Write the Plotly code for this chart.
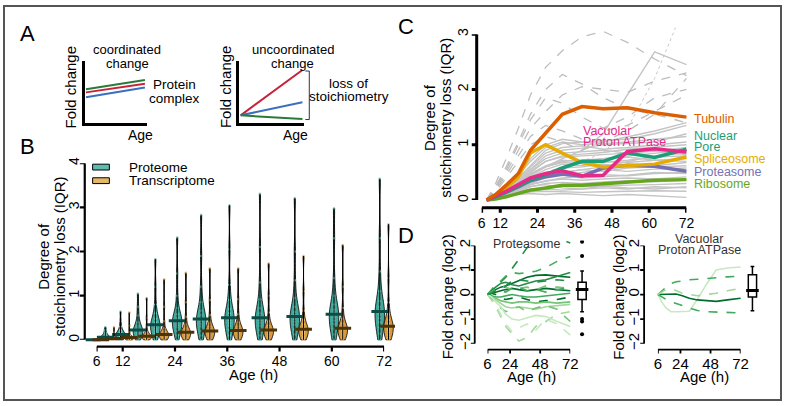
import numpy as np
import plotly.graph_objects as go

W, H = 789, 406
FONT = "Arial, Liberation Sans, sans-serif"

# ---------------- data ----------------
ages = [6, 9, 12.5, 16.5, 20.5, 25.5, 31, 37.5, 44.5, 52.5, 61.5, 72]

# panel A schematic (two points per line: start / end)
schem_x = [0.02, 0.97]
coord_green = [0.55, 0.70]
coord_red = [0.50, 0.64]
coord_blue = [0.42, 0.58]
uncoord_red = [0.13, 0.86]
uncoord_blue = [0.13, 0.34]
uncoord_green = [0.13, 0.07]

# panel B: stoichiometry loss per complex, one list per age
proteome = [
    [0, 0, 0],
    [0.0, 0.01, 0.02, 0.03, 0.04, 0.05, 0.06, 0.06, 0.07, 0.08, 0.1, 0.13, 0.17, 0.22, 0.29],
    [0.0, 0.02, 0.04, 0.06, 0.08, 0.1, 0.11, 0.12, 0.13, 0.15, 0.18, 0.22, 0.3, 0.42, 0.64],
    [0.0, 0.04, 0.08, 0.12, 0.15, 0.18, 0.2, 0.22, 0.24, 0.27, 0.32, 0.4, 0.55, 0.75, 1.05],
    [0.0, 0.08, 0.15, 0.2, 0.25, 0.3, 0.33, 0.34, 0.36, 0.4, 0.48, 0.6, 0.8, 1.2, 1.83],
    [0.0, 0.1, 0.2, 0.28, 0.33, 0.38, 0.41, 0.43, 0.46, 0.5, 0.58, 0.72, 1.0, 1.5, 2.32],
    [0.0, 0.1, 0.2, 0.3, 0.36, 0.42, 0.45, 0.47, 0.5, 0.56, 0.66, 0.85, 1.2, 1.9, 2.83],
    [0.0, 0.1, 0.22, 0.32, 0.38, 0.44, 0.48, 0.5, 0.53, 0.6, 0.7, 0.9, 1.25, 2.05, 3.05],
    [0.0, 0.1, 0.22, 0.32, 0.38, 0.44, 0.48, 0.5, 0.54, 0.6, 0.72, 0.92, 1.3, 2.1, 3.31],
    [0.0, 0.12, 0.24, 0.34, 0.41, 0.47, 0.51, 0.53, 0.57, 0.63, 0.75, 0.95, 1.35, 2.0, 3.21],
    [0.0, 0.12, 0.25, 0.36, 0.44, 0.51, 0.55, 0.58, 0.62, 0.68, 0.8, 1.0, 1.4, 2.3, 2.98],
    [0.0, 0.14, 0.28, 0.4, 0.49, 0.56, 0.6, 0.64, 0.68, 0.75, 0.88, 1.1, 1.55, 2.3, 3.65],
]
transcriptome = [
    [0, 0, 0],
    [0.0, 0.005, 0.01, 0.015, 0.02, 0.025, 0.03, 0.03, 0.035, 0.04, 0.05, 0.07, 0.1, 0.16, 0.29],
    [0.0, 0.01, 0.02, 0.03, 0.035, 0.04, 0.045, 0.05, 0.055, 0.065, 0.08, 0.11, 0.18, 0.32, 0.62],
    [0.0, 0.01, 0.03, 0.045, 0.055, 0.065, 0.075, 0.08, 0.09, 0.1, 0.13, 0.18, 0.3, 0.5, 0.95],
    [0.0, 0.02, 0.04, 0.06, 0.08, 0.1, 0.11, 0.12, 0.13, 0.15, 0.19, 0.26, 0.42, 0.75, 1.37],
    [0.0, 0.03, 0.06, 0.09, 0.12, 0.14, 0.16, 0.17, 0.18, 0.21, 0.26, 0.34, 0.52, 0.85, 1.52],
    [0.0, 0.03, 0.07, 0.1, 0.14, 0.17, 0.19, 0.2, 0.21, 0.24, 0.3, 0.38, 0.56, 0.9, 1.62],
    [0.0, 0.03, 0.07, 0.11, 0.15, 0.18, 0.2, 0.21, 0.22, 0.25, 0.31, 0.4, 0.58, 0.92, 1.62],
    [0.0, 0.04, 0.08, 0.12, 0.16, 0.19, 0.21, 0.22, 0.23, 0.26, 0.32, 0.42, 0.62, 1.0, 1.73],
    [0.0, 0.04, 0.08, 0.13, 0.17, 0.2, 0.23, 0.24, 0.25, 0.28, 0.35, 0.45, 0.66, 1.1, 1.9],
    [0.0, 0.04, 0.09, 0.14, 0.19, 0.22, 0.25, 0.26, 0.27, 0.3, 0.37, 0.48, 0.72, 1.2, 2.15],
    [0.0, 0.05, 0.11, 0.17, 0.22, 0.27, 0.3, 0.31, 0.33, 0.37, 0.45, 0.58, 0.85, 1.4, 2.62],
]

# panel C: background complexes (grey)
grey_solid = [
    [0, 0.05, 0.1, 0.15, 0.2, 0.22, 0.25, 0.24, 0.26, 0.27, 0.28, 0.3],
    [0, 0.08, 0.18, 0.3, 0.45, 0.6, 0.7, 0.72, 0.75, 0.8, 0.85, 0.9],
    [0, 0.1, 0.25, 0.45, 0.7, 0.95, 1.05, 1.0, 1.02, 1.05, 1.1, 1.15],
    [0, 0.06, 0.12, 0.22, 0.35, 0.45, 0.5, 0.55, 0.52, 0.58, 0.6, 0.62],
    [0, 0.04, 0.08, 0.12, 0.15, 0.16, 0.15, 0.14, 0.15, 0.16, 0.17, 0.16],
    [0, 0.07, 0.15, 0.28, 0.42, 0.55, 0.65, 0.62, 0.7, 0.68, 0.72, 0.75],
    [0, 0.09, 0.2, 0.38, 0.6, 0.85, 0.95, 0.98, 0.92, 0.95, 1.0, 1.05],
    [0, 0.03, 0.06, 0.1, 0.12, 0.1, 0.12, 0.1, 0.08, 0.1, 0.08, 0.05],
    [0, 0.06, 0.14, 0.25, 0.38, 0.48, 0.45, 0.4, 0.42, 0.45, 0.5, 0.48],
    [0, 0.08, 0.2, 0.35, 0.55, 0.75, 0.85, 0.88, 0.9, 0.85, 0.88, 0.95],
    [0, 0.05, 0.1, 0.18, 0.28, 0.35, 0.38, 0.36, 0.38, 0.4, 0.38, 0.42],
    [0, 0.1, 0.22, 0.4, 0.62, 0.9, 1.02, 1.05, 1.08, 1.1, 1.2, 1.35],
    [0, 0.07, 0.16, 0.3, 0.5, 0.7, 0.78, 0.8, 0.82, 0.85, 0.9, 0.82],
    [0, 0.04, 0.09, 0.16, 0.24, 0.3, 0.32, 0.3, 0.33, 0.35, 0.33, 0.36],
    [0, 0.06, 0.13, 0.22, 0.32, 0.42, 0.58, 0.6, 0.65, 0.6, 0.62, 0.68],
    [0, 0.09, 0.2, 0.36, 0.55, 0.8, 0.9, 0.94, 1.0, 1.02, 1.05, 1.2],
    [0, 0.05, 0.12, 0.2, 0.3, 0.4, 0.45, 0.5, 0.55, 0.52, 0.56, 0.58],
    [0, 0.08, 0.18, 0.32, 0.48, 0.62, 0.72, 0.7, 0.75, 0.78, 0.72, 0.7],
    [0, 0.1, 0.25, 0.45, 0.75, 1.0, 1.1, 1.05, 1.05, 1.15, 1.25, 1.4],
    [0, 0.08, 0.18, 0.3, 0.45, 0.6, 0.75, 0.9, 1.2, 1.9, 2.68, 2.45],
    [0, 0.07, 0.15, 0.25, 0.35, 0.45, 0.5, 0.55, 0.6, 0.7, 0.8, 0.85],
    [0, 0.05, 0.1, 0.2, 0.25, 0.28, 0.22, 0.2, 0.25, 0.22, 0.2, 0.24],
    [0, 0.06, 0.12, 0.2, 0.28, 0.34, 0.4, 0.42, 0.46, 0.44, 0.48, 0.5],
    [0, 0.09, 0.2, 0.34, 0.52, 0.7, 0.8, 0.83, 0.86, 0.92, 0.96, 1.0],
    [0, 0.03, 0.07, 0.12, 0.16, 0.2, 0.18, 0.2, 0.22, 0.2, 0.24, 0.22],
    [0, 0.07, 0.17, 0.3, 0.46, 0.6, 0.68, 0.66, 0.68, 0.72, 0.78, 0.8],
]
grey_dashed = [
    [0, 0.3, 0.75, 1.3, 1.9, 2.4, 2.7, 2.95, 3.05, 2.85, 2.55, 2.25],
    [0, 0.25, 0.6, 1.05, 1.55, 2.0, 2.27, 2.1, 1.85, 1.65, 1.55, 1.4],
    [0, 0.2, 0.5, 0.9, 1.3, 1.6, 1.9, 2.05, 2.0, 1.95, 2.15, 2.3],
    [0, 0.22, 0.55, 1.0, 1.45, 1.85, 1.75, 1.5, 1.3, 1.5, 1.85, 2.0],
    [0, 0.18, 0.45, 0.8, 1.15, 1.35, 1.25, 1.1, 1.25, 1.35, 1.6, 1.9],
    [0, 0.15, 0.4, 0.7, 1.0, 1.15, 1.05, 0.9, 1.05, 1.25, 1.55, 2.2],
]
grey_dotted = [0, 0.06, 0.14, 0.24, 0.36, 0.5, 0.6, 0.7, 0.85, 1.3, 2.2, 3.6]

complex_names = ["Ribosome", "Proteasome", "Spliceosome", "Nuclear Pore", "Vacuolar Proton ATPase", "Tubulin"]
complex_colors = ["#66a61e", "#7570b3", "#e6ab02", "#1b9e77", "#e7298a", "#d95f02"]
complex_loss = [
    [0, 0.02, 0.06, 0.12, 0.18, 0.22, 0.27, 0.27, 0.3, 0.33, 0.36, 0.37],
    [0, 0.06, 0.14, 0.24, 0.35, 0.42, 0.47, 0.43, 0.58, 0.63, 0.61, 0.52],
    [0, 0.08, 0.22, 0.42, 0.85, 1.0, 0.85, 0.68, 0.6, 0.62, 0.65, 0.78],
    [0, 0.06, 0.15, 0.26, 0.36, 0.46, 0.58, 0.7, 0.7, 0.85, 0.77, 0.92],
    [0, 0.07, 0.16, 0.28, 0.4, 0.48, 0.53, 0.44, 0.45, 0.88, 0.93, 0.87],
    [0, 0.1, 0.27, 0.48, 0.9, 1.2, 1.55, 1.69, 1.65, 1.67, 1.58, 1.5],
]

# panel D: subunit fold changes (log2)
d_colors = ["#238b45", "#41ab5d", "#006d2c", "#238b45", "#006d2c", "#74c476", "#41ab5d", "#006d2c",
            "#74c476", "#a1d99b", "#a1d99b", "#c7e9c0", "#74c476", "#c7e9c0", "#41ab5d", "#238b45"]
d_dashed = [True, True, False, False, False, True, False, True, False, False, True, True, True, False, True, True]
proteasome_fc = [
    [0, 0.15, 0.35, 0.5, 0.7, 1.05, 1.45, 1.9, 2.3, 2.5, 2.3, 2.1],
    [0, 0.2, 0.4, 0.55, 0.75, 0.9, 0.85, 0.9, 0.95, 1.1, 1.35, 1.55],
    [0, 0.1, 0.2, 0.3, 0.35, 0.45, 0.55, 0.7, 0.78, 0.8, 0.75, 0.7],
    [0, 0.15, 0.3, 0.45, 0.5, 0.4, 0.35, 0.45, 0.55, 0.6, 0.75, 0.9],
    [0, 0.05, 0.1, 0.15, 0.2, 0.25, 0.2, 0.15, 0.2, 0.25, 0.2, 0.15],
    [0, 0.1, 0.25, 0.35, 0.3, 0.2, 0.25, 0.3, 0.2, 0.35, 0.3, 0.25],
    [0, -0.05, -0.1, -0.1, -0.05, 0.0, -0.05, -0.1, -0.1, -0.05, 0.0, 0.05],
    [0, 0.05, 0.0, -0.15, -0.2, -0.15, -0.1, -0.2, -0.3, -0.25, -0.2, -0.1],
    [0, -0.1, -0.15, -0.25, -0.3, -0.35, -0.3, -0.3, -0.35, -0.3, -0.35, -0.3],
    [0, -0.1, -0.2, -0.35, -0.5, -0.55, -0.5, -0.55, -0.6, -0.5, -0.45, -0.4],
    [0, -0.2, -0.5, -0.9, -1.3, -1.6, -1.9, -1.75, -1.3, -1.1, -0.8, -0.7],
    [0, -0.1, -0.4, -0.8, -1.2, -1.5, -1.35, -1.2, -1.45, -1.0, -1.2, -1.65],
    [0, -0.15, -0.3, -0.55, -0.7, -0.6, -0.5, -0.7, -0.55, -0.45, -0.6, -1.1],
    [0, -0.1, -0.3, -0.5, -0.8, -1.0, -1.05, -0.95, -0.85, -0.9, -1.1, -1.3],
    [0, 0.1, 0.2, 0.15, 0.1, 0.25, 0.3, 0.15, 0.2, 0.1, 0.2, 0.3],
    [0, 0.05, 0.15, 0.2, 0.35, 0.55, 0.6, 0.55, 0.5, 0.55, 0.6, 0.55],
]
proteasome_box = dict(q1=-0.2, median=0.2, q3=0.5, lo=-0.7, hi=0.96)
proteasome_outliers = [2.15, 1.57, -1.0, -1.1, -1.62]

v_colors = ["#c7e9c0", "#006d2c", "#41ab5d", "#41ab5d", "#a1d99b"]
v_dashed = [False, False, True, True, True]
vatpase_fc = [
    [0, -0.3, -0.55, -0.7, -0.7, -0.7, -0.68, -0.2, 0.4, 1.0, 1.08, 1.12],
    [0, 0.0, 0.02, 0.03, 0.02, -0.05, -0.15, -0.22, -0.25, -0.28, -0.22, -0.15],
    [0, 0.15, 0.3, 0.45, 0.52, 0.55, 0.6, 0.62, 0.65, 0.7, 0.72, 0.75],
    [0, -0.1, -0.2, -0.3, -0.38, -0.45, -0.55, -0.65, -0.7, -0.72, -0.73, -0.75],
    [0, 0.1, 0.2, 0.25, 0.15, 0.05, 0.0, -0.05, 0.0, 0.05, 0.15, 0.25],
]
vatpase_box = dict(q1=-0.1, median=0.16, q3=0.81, lo=-0.66, hi=1.14)

# tick values of the display axes
B_xticks, B_yticks = [6, 12, 24, 36, 48, 60, 72], [0, 1, 2, 3, 4]
C_xticks, C_yticks = [6, 12, 24, 36, 48, 60, 72], [0, 1, 2, 3]
D_xticks, D_yticks = [6, 24, 48, 72], [-2, -1, 0, 1, 2]

TEAL, TEAL_LIGHT, TEAL_DARK = "#3fa99b", "#5cbcae", "#0b4d46"
ORANGE, ORANGE_LIGHT, ORANGE_DARK = "#d99a3c", "#e3b866", "#4d3308"


# ---------------- helpers (pixel -> paper) ----------------
def xdom(r, a, pa, b, pb):
    k = (pb - pa) / (b - a)
    return [(pa + (r[0] - a) * k) / W, (pa + (r[1] - a) * k) / W]


def ydom(r, a, pa, b, pb):
    k = (pb - pa) / (b - a)
    return [1 - (pa + (r[0] - a) * k) / H, 1 - (pa + (r[1] - a) * k) / H]


def hidden(rng, dom, anchor):
    return dict(range=rng, domain=dom, anchor=anchor, visible=False, fixedrange=True)


# display axes only carry the tick labels; line + ticks are drawn as shapes (R-style, detached)
def show_x(p0, p1, rng, ticks, anchor, size=14, standoff=-3):
    return dict(domain=[p0 / W, p1 / W], range=rng, anchor=anchor, showline=False, ticks="outside",
                ticklen=5, tickcolor="rgba(0,0,0,0)", tickvals=ticks, showgrid=False, zeroline=False,
                ticklabelstandoff=standoff, tickfont=dict(size=size, color="black", family=FONT),
                fixedrange=True)


def show_y(top, bottom, rng, ticks, anchor, size=14, standoff=-3):
    return dict(domain=[1 - bottom / H, 1 - top / H], range=rng, anchor=anchor, showline=False,
                ticks="outside", ticklen=5, tickcolor="rgba(0,0,0,0)", tickvals=ticks, tickangle=-90,
                showgrid=False, zeroline=False, ticklabelstandoff=standoff,
                tickfont=dict(size=size, color="black", family=FONT), fixedrange=True)


blank = dict(range=[0, 1], showline=False, showgrid=False, zeroline=False, ticks="",
             showticklabels=False, fixedrange=True)


def partner_y(ypos, anchor):
    return dict(blank, domain=[1 - ypos / H, 1 - (ypos - 4) / H], anchor=anchor)


def partner_x(xpos, anchor):
    return dict(blank, domain=[xpos / W, (xpos + 4) / W], anchor=anchor)


def x_axis_shapes(xref, ticks, ypos, lw, tl):
    y0 = 1 - ypos / H
    out = [dict(type="line", xref=xref, yref="paper", x0=ticks[0], x1=ticks[-1], y0=y0, y1=y0,
                line=dict(color="black", width=lw))]
    for t in ticks:
        out.append(dict(type="line", xref=xref, yref="paper", x0=t, x1=t, y0=y0, y1=1 - (ypos + tl) / H,
                        line=dict(color="black", width=lw)))
    return out


def y_axis_shapes(yref, ticks, xpos, lw, tl):
    x0 = xpos / W
    out = [dict(type="line", xref="paper", yref=yref, x0=x0, x1=x0, y0=ticks[0], y1=ticks[-1],
                line=dict(color="black", width=lw))]
    for v in ticks:
        out.append(dict(type="line", xref="paper", yref=yref, x0=x0, x1=(xpos - tl) / W, y0=v, y1=v,
                        line=dict(color="black", width=lw)))
    return out


def txt(s, x, y, size=13, color="black", angle=0, xanchor="center"):
    return dict(text=s, x=x / W, y=1 - y / H, xref="paper", yref="paper", showarrow=False,
                font=dict(size=size, color=color, family=FONT), textangle=angle,
                xanchor=xanchor, yanchor="middle")


fig = go.Figure()

# ---------------- panel A ----------------
for ys, col in [(coord_green, "#2a7a3a"), (coord_red, "#c8213a"), (coord_blue, "#3a6fbf")]:
    fig.add_trace(go.Scatter(x=schem_x, y=ys, mode="lines", line=dict(color=col, width=2),
                             xaxis="x", yaxis="y", hoverinfo="skip"))
for ys, col in [(uncoord_red, "#c8213a"), (uncoord_blue, "#3a6fbf"), (uncoord_green, "#2a7a3a")]:
    fig.add_trace(go.Scatter(x=schem_x, y=ys, mode="lines", line=dict(color=col, width=2),
                             xaxis="x2", yaxis="y2", hoverinfo="skip"))

# ---------------- panel B ----------------
off = 1.0
for t, vals in zip(ages, proteome):
    if max(vals) > 0:
        fig.add_trace(go.Violin(x=[t - off] * len(vals), y=vals, xaxis="x3", yaxis="y3", width=2.2,
                                spanmode="hard", fillcolor=TEAL, line=dict(color="black", width=0.8),
                                points="all", pointpos=0, jitter=0,
                                marker=dict(size=2.5, color="#8fd8cc"), hoverinfo="skip"))
for t, vals in zip(ages, transcriptome):
    if max(vals) > 0:
        fig.add_trace(go.Violin(x=[t + off] * len(vals), y=vals, xaxis="x3", yaxis="y3", width=2.2,
                                spanmode="hard", fillcolor=ORANGE, line=dict(color="black", width=0.8),
                                points="all", pointpos=0, jitter=0,
                                marker=dict(size=2.5, color="#f0c480"), hoverinfo="skip"))

for series, sign, dark in [(proteome, -1, TEAL_DARK), (transcriptome, 1, ORANGE_DARK)]:
    lx, ly = [], []
    for t, vals in zip(ages, series):
        lx += [t + sign * off, t + sign * off, None]
        ly += [min(vals), max(vals), None]
    fig.add_trace(go.Scatter(x=lx, y=ly, mode="lines", line=dict(color="black", width=1),
                             xaxis="x3", yaxis="y3", hoverinfo="skip"))
    fig.add_trace(go.Scatter(x=[t + sign * off for t in ages], y=[float(np.median(v)) for v in series],
                             mode="markers", xaxis="x3", yaxis="y3", hoverinfo="skip",
                             marker=dict(symbol="line-ew", size=12, line=dict(color=dark, width=3))))

# ---------------- panel C ----------------
for ys in grey_solid:
    fig.add_trace(go.Scatter(x=ages, y=ys, mode="lines", line=dict(color="#c4c4c4", width=1.4),
                             xaxis="x5", yaxis="y5", hoverinfo="skip"))
for ys in grey_dashed:
    fig.add_trace(go.Scatter(x=ages, y=ys, mode="lines", line=dict(color="#bdbdbd", width=1.3, dash="dash"),
                             xaxis="x5", yaxis="y5", hoverinfo="skip"))
fig.add_trace(go.Scatter(x=ages, y=grey_dotted, mode="lines", line=dict(color="#c8c8c8", width=1, dash="dot"),
                         xaxis="x5", yaxis="y5", hoverinfo="skip"))
for name, col, ys in zip(complex_names, complex_colors, complex_loss):
    fig.add_trace(go.Scatter(x=ages, y=ys, mode="lines", name=name, line=dict(color=col, width=3.5),
                             xaxis="x5", yaxis="y5", hoverinfo="skip"))

# ---------------- panel D ----------------
for ys, col, dsh in zip(proteasome_fc, d_colors, d_dashed):
    fig.add_trace(go.Scatter(x=ages, y=ys, mode="lines", line=dict(color=col, width=1.6, dash="dash" if dsh else "solid"),
                             xaxis="x7", yaxis="y7", hoverinfo="skip"))
for ys, col, dsh in zip(vatpase_fc, v_colors, v_dashed):
    fig.add_trace(go.Scatter(x=ages, y=ys, mode="lines", line=dict(color=col, width=1.6, dash="dash" if dsh else "solid"),
                             xaxis="x10", yaxis="y10", hoverinfo="skip"))

for bx, yax, st in [("x8", "y7", proteasome_box), ("x11", "y10", vatpase_box)]:
    fig.add_trace(go.Box(x=[0], q1=[st["q1"]], median=[st["median"]], q3=[st["q3"]],
                         lowerfence=[st["lo"]], upperfence=[st["hi"]], xaxis=bx, yaxis=yax,
                         fillcolor="white", line=dict(color="black", width=1.5), width=0.6,
                         whiskerwidth=0.45, boxpoints=False, hoverinfo="skip"))
    fig.add_trace(go.Scatter(x=[0], y=[st["median"]], mode="markers", xaxis=bx, yaxis=yax, hoverinfo="skip",
                             marker=dict(symbol="line-ew", size=9, line=dict(color="black", width=3))))
fig.add_trace(go.Scatter(x=[0] * len(proteasome_outliers), y=proteasome_outliers, mode="markers",
                         marker=dict(color="black", size=4), xaxis="x8", yaxis="y7", hoverinfo="skip"))

# invisible anchor points so the display axes (and their blank partners) form real subplots
for xa, ya, xv, yv in [("x4", "y20", 6, 0.5), ("x20", "y4", 0.5, 0), ("x6", "y21", 6, 0.5), ("x21", "y6", 0.5, 0),
                       ("x9", "y22", 6, 0.5), ("x22", "y9", 0.5, 0), ("x12", "y23", 6, 0.5), ("x23", "y12", 0.5, 0)]:
    fig.add_trace(go.Scatter(x=[xv], y=[yv], xaxis=xa, yaxis=ya, mode="markers",
                             marker=dict(size=1, opacity=0), hoverinfo="skip"))

# ---------------- layout / axes ----------------
axis_a = dict(range=[0, 1], showline=True, linecolor="black", linewidth=3, ticks="", showticklabels=False,
              showgrid=False, zeroline=False, fixedrange=True)

B_rx, B_ry = [3.5, 74.5], [-0.08, 4.0]
C_rx, C_ry = [5.5, 72.5], [-0.05, 3.12]
D_rx, D_ry = [5.0, 73.0], [-2.1, 2.2]

fig.update_layout(
    width=W, height=H, margin=dict(l=0, r=0, t=0, b=0), showlegend=False,
    paper_bgcolor="white", plot_bgcolor="rgba(0,0,0,0)", font=dict(family=FONT, color="black"),
    # A
    xaxis=dict(axis_a, domain=[82 / W, 145 / W], anchor="y"),
    yaxis=dict(axis_a, domain=[1 - 121 / H, 1 - 57 / H], anchor="x"),
    xaxis2=dict(axis_a, domain=[239 / W, 305 / W], anchor="y2"),
    yaxis2=dict(axis_a, domain=[1 - 121 / H, 1 - 57 / H], anchor="x2"),
    # B
    xaxis3=hidden(B_rx, xdom(B_rx, 6, 94, 72, 386), "y3"),
    yaxis3=hidden(B_ry, ydom(B_ry, 0, 344, 4, 162), "x3"),
    xaxis4=show_x(94, 386, [6, 72], B_xticks, "y20"),
    yaxis4=show_y(162, 344, [0, 4], B_yticks, "x20", standoff=-6),
    yaxis20=partner_y(351, "x4"),
    xaxis20=partner_x(82, "y4"),
    # C
    xaxis5=hidden(C_rx, xdom(C_rx, 6, 490, 72, 693), "y5"),
    yaxis5=hidden(C_ry, ydom(C_ry, 0, 200, 3, 29), "x5"),
    xaxis6=show_x(485, 693, [6, 72], C_xticks, "y21"),
    yaxis6=show_y(29, 200, [0, 3], C_yticks, "x21"),
    yaxis21=partner_y(208, "x6"),
    xaxis21=partner_x(480, "y6"),
    # D left
    xaxis7=hidden(D_rx, xdom(D_rx, 6, 491, 72, 575), "y7"),
    yaxis7=hidden(D_ry, ydom(D_ry, 0, 297.3, 2, 246.7), "x7"),
    xaxis8=hidden([-0.5, 0.5], [580 / W, 594 / W], "y7"),
    xaxis9=show_x(491, 575, [6, 72], D_xticks, "y22", size=15, standoff=-5),
    yaxis9=show_y(246.7, 348, [-2, 2], D_yticks, "x22", size=15, standoff=-7),
    yaxis22=partner_y(354, "x9"),
    xaxis22=partner_x(478, "y9"),
    # D right
    xaxis10=hidden(D_rx, xdom(D_rx, 6, 664, 72, 748), "y10"),
    yaxis10=hidden(D_ry, ydom(D_ry, 0, 297.3, 2, 246.7), "x10"),
    xaxis11=hidden([-0.5, 0.5], [753 / W, 767 / W], "y10"),
    xaxis12=show_x(664, 748, [6, 72], D_xticks, "y23", size=15, standoff=-5),
    yaxis12=show_y(246.7, 348, [-2, 2], D_yticks, "x23", size=15, standoff=-7),
    yaxis23=partner_y(354, "x12"),
    xaxis23=partner_x(650, "y12"),
)

ann = [
    txt("A", 24, 28, size=22), txt("B", 24, 145, size=22), txt("C", 408, 21, size=22), txt("D", 408, 237, size=22),
    # A
    txt("coordinated", 125, 45, size=13), txt("change", 125, 59, size=13),
    txt("Fold change", 68, 83, size=15, angle=-90),
    txt("Protein", 173, 81, size=13.5), txt("complex", 173, 95, size=13.5), txt("Age", 139, 133, size=14),
    txt("uncoordinated", 293, 45, size=13), txt("change", 293, 59, size=13),
    txt("Fold change", 225, 83, size=15, angle=-90),
    txt("loss of", 350, 80, size=13.5), txt("stoichiometry", 350, 93, size=13.5), txt("Age", 296, 133, size=14),
    # B
    txt("Degree of", 40, 258, size=15, angle=-90),
    txt("stoichiometry loss (IQR)", 56, 258, size=15, angle=-90),
    txt("Age (h)", 253, 380, size=15),
    txt("Proteome", 125, 166, size=13.5, xanchor="left"),
    txt("Transcriptome", 125, 180, size=13.5, xanchor="left"),
    # C
    txt("Degree of", 432, 115, size=15, angle=-90),
    txt("stoichiometry loss (IQR)", 448, 115, size=15, angle=-90),
    txt("Tubulin", 699, 116, size=12.5, color="#d95f02", xanchor="left"),
    txt("Nuclear", 699, 134, size=12.5, color="#1b9e77", xanchor="left"),
    txt("Pore", 699, 145.5, size=12.5, color="#1b9e77", xanchor="left"),
    txt("Spliceosome", 699, 157.5, size=12.5, color="#e6ab02", xanchor="left"),
    txt("Proteasome", 699, 171, size=12.5, color="#7570b3", xanchor="left"),
    txt("Ribosome", 699, 183.5, size=12.5, color="#66a61e", xanchor="left"),
    txt("Vacuolar", 586, 129, size=12.5, color="#e7298a", xanchor="left"),
    txt("Proton ATPase", 586, 140, size=12.5, color="#e7298a", xanchor="left"),
    # D
    txt("Proteasome", 531, 245, size=12.5, color="#333333"),
    txt("Vacuolar", 706, 240, size=12.5, color="#333333"),
    txt("Proton ATPase", 706, 251, size=12.5, color="#333333"),
    txt("Fold change (log2)", 450, 300, size=15, angle=-90),
    txt("Fold change (log2)", 624, 300, size=15, angle=-90),
    txt("Age (h)", 536, 382, size=15), txt("Age (h)", 711, 382, size=15),
]
fig.update_layout(annotations=ann)

shapes = [
    # outer frame
    dict(type="rect", xref="paper", yref="paper", x0=0, y0=0, x1=1, y1=1, line=dict(color="#555555", width=2)),
    # bracket in panel A
    dict(type="path", xref="paper", yref="paper",
         path=f"M {306 / W} {1 - 67 / H} L {310 / W} {1 - 67 / H} L {310 / W} {1 - 117 / H} L {306 / W} {1 - 117 / H}",
         line=dict(color="#333333", width=1)),
    # legend swatches in panel B
    dict(type="rect", xref="paper", yref="paper", x0=90 / W, x1=107 / W, y0=1 - 169 / H, y1=1 - 163 / H,
         fillcolor=TEAL_LIGHT, line=dict(color="black", width=1)),
    dict(type="rect", xref="paper", yref="paper", x0=90 / W, x1=107 / W, y0=1 - 183 / H, y1=1 - 177 / H,
         fillcolor=ORANGE_LIGHT, line=dict(color="black", width=1)),
]
shapes += x_axis_shapes("x4", B_xticks, 351, 2.2, 5) + y_axis_shapes("y4", B_yticks, 82, 2.2, 5)
shapes += x_axis_shapes("x6", C_xticks, 208, 3, 5) + y_axis_shapes("y6", C_yticks, 480, 3, 5)
shapes += x_axis_shapes("x9", D_xticks, 354, 1.8, 4) + y_axis_shapes("y9", D_yticks, 478, 1.8, 4)
shapes += x_axis_shapes("x12", D_xticks, 354, 1.8, 4) + y_axis_shapes("y12", D_yticks, 650, 1.8, 4)
fig.update_layout(shapes=shapes)

# the page body has a default 8px margin; remove it so the figure fills the window
fig.write_html("out.html", config={"displayModeBar": False},
               post_script="document.body.style.margin='0';document.body.style.overflow='hidden';")
